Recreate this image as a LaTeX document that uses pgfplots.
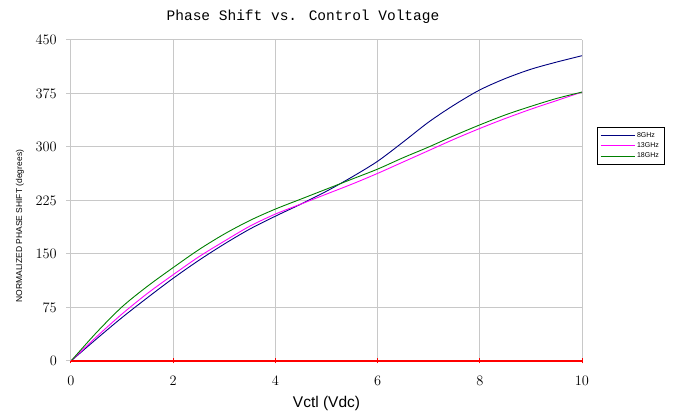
\documentclass[border=0pt]{standalone}
\usepackage{fontspec}
\setmainfont{Liberation Sans}
\newfontfamily\monofont{Liberation Mono}
\usepackage{pgfplots}
\pgfplotsset{compat=1.18}
\definecolor{gridgray}{RGB}{200,200,200}
\definecolor{navyc}{RGB}{0,0,128}
\definecolor{magc}{RGB}{255,0,255}
\definecolor{greenc}{RGB}{0,128,0}
\definecolor{axred}{RGB}{255,0,0}
\begin{document}
\begin{tikzpicture}
\begin{axis}[
  at={(0,0)}, anchor=south west,
  scale only axis, width=511pt, height=321pt,
  xmin=0, xmax=10, ymin=0, ymax=450,
  xtick={0,2,4,6,8,10}, ytick={0,75,150,225,300,375,450},
  axis x line*=bottom, axis y line*=left,
  x axis line style={draw=axred, line width=1.2pt, -},
  y axis line style={draw=gridgray, line width=1pt, -},
  grid=major,
  major grid style={gridgray, line width=1pt},
  x tick style={draw=axred, line width=1pt},
  y tick style={draw=gridgray, line width=1pt},
  xtick align=center, ytick align=outside,
  major tick length=5pt,
  tick label style={font=\fontsize{15}{15}\selectfont},
  xticklabel style={anchor=center, yshift=-17pt},
  yticklabel style={anchor=east, inner sep=0pt, xshift=-9pt},
  title={Phase Shift vs. Control Voltage},
  title style={at={(0.454,1)}, anchor=center, yshift=17pt, font=\monofont\fontsize{14.5}{14.5}\selectfont},
  xlabel={Vctl (Vdc)},
  xlabel style={at={(0.5,0)}, anchor=center, yshift=-42pt, font=\fontsize{15.5}{16}\selectfont},
  ylabel={NORMALIZED PHASE SHIFT (degrees)},
  ylabel style={at={(0,0.42)}, anchor=center, yshift=51pt, font=\fontsize{8.5}{9}\selectfont},
  legend style={at={(1.029,0.729)}, anchor=north west, draw=black, line width=0.6pt,
    font=\fontsize{7}{8}\selectfont, inner xsep=3pt, inner ysep=3pt},
  legend cell align=left,
  legend image code/.code={\draw[#1] (0pt,0pt) -- (34pt,0pt);},
]
\addplot[navyc, line width=0.9pt, smooth] coordinates {
(0,0) (0.5,31) (1,61) (1.5,89) (2,116) (2.5,141) (3,164) (3.5,185) (4,203) (4.5,220) (5,238) (5.5,258) (6,280) (6.5,307) (7,335) (7.5,359) (8,380) (8.5,396) (9,409) (9.5,419) (10,428)};
\addlegendentry{8GHz}
\addplot[magc, line width=0.9pt, smooth] coordinates {
(0,0) (0.5,34) (1,66) (1.5,95) (2,121) (2.5,146) (3,168) (3.5,189) (4,206) (4.5,220) (5,234) (5.5,248) (6,263) (6.5,279) (7,295) (7.5,311) (8,326) (8.5,340) (9,353) (9.5,365) (10,377)};
\addlegendentry{13GHz}
\addplot[greenc, line width=0.9pt, smooth] coordinates {
(0,0) (0.5,40) (1,76) (1.5,105) (2,131) (2.5,156) (3,178) (3.5,197) (4,213) (4.5,227) (5,241) (5.5,255) (6,269) (6.5,285) (7,300) (7.5,316) (8,331) (8.5,345) (9,357) (9.5,368) (10,377)};
\addlegendentry{18GHz}
\draw[draw=axred, line width=1.2pt] (axis cs:0,0) -- (axis cs:10,0);
\end{axis}
\pgfresetboundingbox
\path (-71pt,-51pt) rectangle (607pt,361pt);
\end{tikzpicture}
\end{document}
